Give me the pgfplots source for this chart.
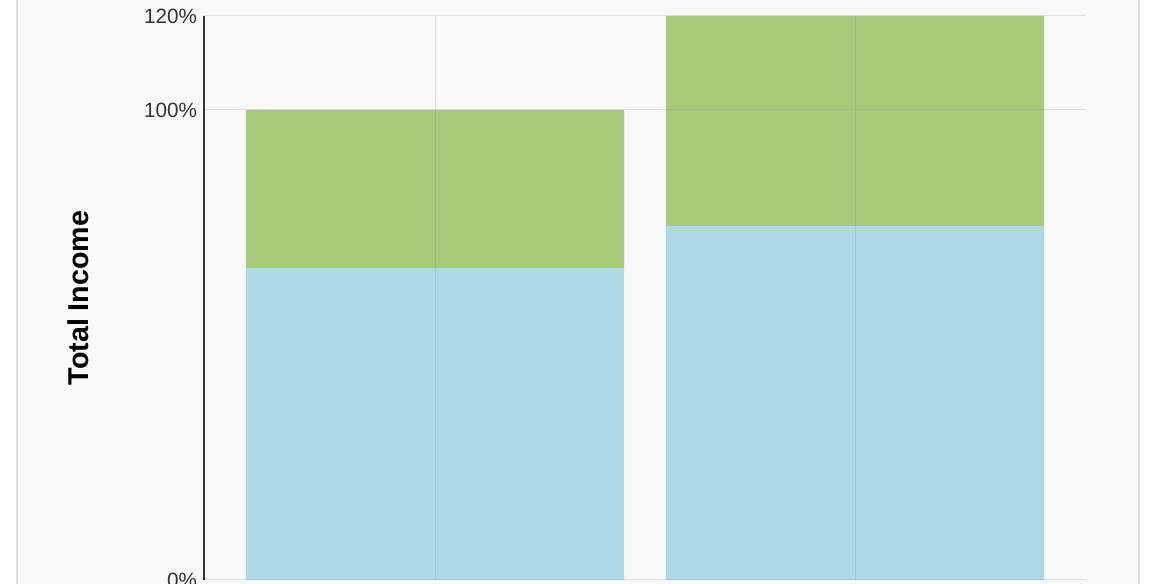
\documentclass[border=0pt]{standalone}
\usepackage{fontspec}
\setmainfont{Liberation Sans}
\usepackage{pgfplots}
\pgfplotsset{compat=1.18}
\definecolor{incblue}{RGB}{173,216,230}
\definecolor{incgreen}{RGB}{169,201,122}
\definecolor{bgc}{RGB}{248,248,248}
\definecolor{framec}{RGB}{222,222,222}
\definecolor{tickc}{RGB}{51,51,51}
\begin{document}
\begin{tikzpicture}[x=1pt,y=1pt]
\useasboundingbox (0,0) rectangle (876,438);
\clip (0,0) rectangle (876,438);
\fill[white] (0,0) rectangle (876,438);
\filldraw[fill=bgc, draw=framec, line width=1.2pt] (12.75,-20) rectangle (854.25,460);
\begin{axis}[
  at={(153pt,3pt)}, anchor=south west, scale only axis,
  width=661.5pt, height=423pt,
  xmin=-0.55, xmax=1.55, ymin=0, ymax=120,
  ybar stacked, bar width=283.5pt,
  xtick={0,1}, xticklabels={},
  ytick={0,100,120}, yticklabels={0\%,100\%,120\%},
  major tick length=0pt,
  xmajorgrids, ymajorgrids,
  axis on top,
  grid style={draw=black!50, draw opacity=0.2, line width=0.75pt},
  axis lines*=left,
  x axis line style={draw=none},
  y axis line style={draw=tickc, line width=0.9pt},
  yticklabel style={font=\fontsize{15.5}{18}\selectfont, text=tickc, inner sep=0pt, xshift=-5pt, anchor=east},
  ylabel={Total Income},
  ylabel style={font=\fontsize{21.5}{24}\selectfont\bfseries, text=black, at={(axis description cs:-0.143,0.5)}, anchor=center, rotate=0},
  clip=false,
]
\addplot[fill=incblue, draw=none] coordinates {(0,66.4) (1,75.3)};
\addplot[fill=incgreen, draw=none] coordinates {(0,33.6) (1,44.7)};
\end{axis}
\end{tikzpicture}
\end{document}
